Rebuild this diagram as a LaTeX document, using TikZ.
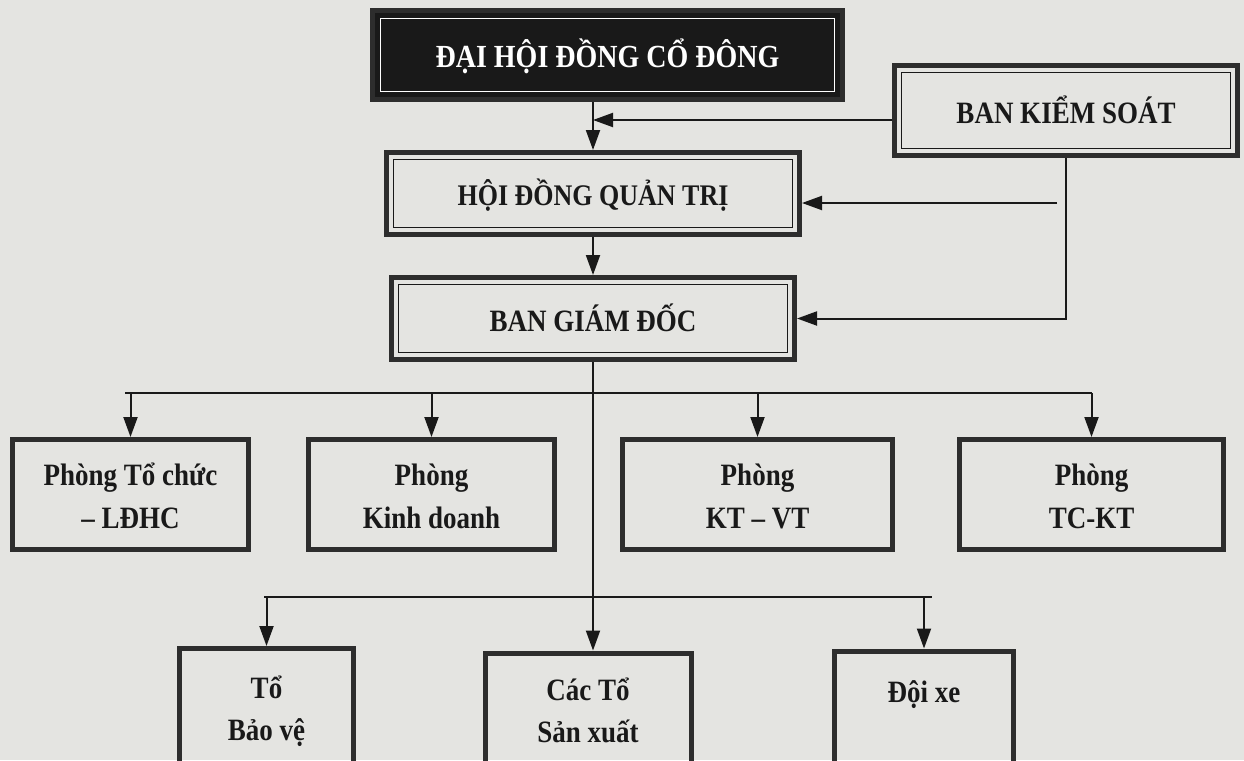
\documentclass[tikz,border=0pt]{standalone}
\usepackage{fontspec}
\usepackage{graphicx}
\setmainfont{Liberation Serif}
\usetikzlibrary{arrows.meta}
\definecolor{paper}{RGB}{228,228,225}
\definecolor{ink}{RGB}{25,25,25}
\definecolor{rim}{RGB}{45,45,45}
\newcommand{\tx}[1]{\raisebox{-4pt}[\height][\depth]{\scalebox{1}[1.15]{\begin{tabular}{@{}c@{}}#1\end{tabular}}}}
\begin{document}
\begin{tikzpicture}[x=1pt,y=-1pt,
  frame/.style={rectangle, draw=rim, line width=5pt, inner sep=0pt, align=center,
    text=ink, font=\bfseries\fontsize{27}{37}\selectfont},
  dframe/.style={frame, path picture={\draw[ink, line width=1.6pt]
    ([shift={(7pt,-7pt)}]path picture bounding box.north west) rectangle
    ([shift={(-7pt,7pt)}]path picture bounding box.south east);}},
  bframe/.style={frame, fill=ink, text=white, font=\bfseries\fontsize{28}{34}\selectfont,
    path picture={\draw[white, line width=1.6pt]
    ([shift={(8pt,-8pt)}]path picture bounding box.north west) rectangle
    ([shift={(-8pt,8pt)}]path picture bounding box.south east);}},
  conn/.style={draw=ink, line width=2pt},
  arr/.style={conn, -{Triangle[length=20pt,width=14pt]}}
]
\useasboundingbox (0,0) rectangle (1244,760);
\clip (0,0) rectangle (1244,760);
\fill[paper] (0,0) rectangle (1244,760);

% top level
\node[bframe, minimum width=470pt, minimum height=89pt] (dh) at (607.5,55) {\tx{ĐẠI HỘI ĐỒNG CỔ ĐÔNG}};
\node[dframe, minimum width=343pt, minimum height=90pt] (bks) at (1066,110.5) {\tx{BAN KIỂM SOÁT}};
\node[dframe, minimum width=413pt, minimum height=82pt, font=\bfseries\fontsize{26}{34}\selectfont] (hdqt) at (593,193.5) {\tx{HỘI ĐỒNG QUẢN TRỊ\hspace{24pt}}};
\node[dframe, minimum width=403pt, minimum height=82pt] (bgd) at (593,318.5) {\tx{BAN GIÁM ĐỐC}};

% departments
\node[frame, minimum width=236pt, minimum height=110pt] (p1) at (130.5,494.5) {\tx{Phòng Tổ chức\\– LĐHC}};
\node[frame, minimum width=246pt, minimum height=110pt] (p2) at (431.5,494.5) {\tx{Phòng\\Kinh doanh}};
\node[frame, minimum width=270pt, minimum height=110pt] (p3) at (757.5,494.5) {\tx{Phòng\\KT – VT}};
\node[frame, minimum width=264pt, minimum height=110pt] (p4) at (1091.5,494.5) {\tx{Phòng\\TC-KT}};

% teams
\node[frame, minimum width=174pt, minimum height=117pt] (t1) at (266.5,707) {\tx{Tổ\\Bảo vệ}};
\node[frame, minimum width=206pt, minimum height=112pt] (t2) at (588,709) {\tx{Các Tổ\\Sản xuất}};
\node[frame, minimum width=179pt, minimum height=114pt] (t3) at (924,708) {\raisebox{11pt}[0pt][0pt]{\tx{Đội xe}}};

% connectors upper part
\draw[arr] (dh.south -| hdqt.north) -- (hdqt.north);
\coordinate (j1) at (593,120);
\draw[arr] (bks.west |- j1) -- (j1);
\draw[arr] (bks.south) |- (bgd.east);
\coordinate (j2) at (1057,203);
\draw[arr] (j2) -- (hdqt.east |- j2);
\draw[arr] (hdqt.south) -- (bgd.north);

% row 2
\coordinate (r2L) at (125,393);
\coordinate (r2R) at (1091.5,393);
\draw[conn] (r2L) -- (r2R);
\draw[arr] (p1.north |- r2L) -- (p1.north);
\draw[arr] (p2.north |- r2L) -- (p2.north);
\draw[arr] (p3.north |- r2L) -- (p3.north);
\draw[arr] (r2R) -- (p4.north);

% central line and row 3
\draw[arr] (bgd.south) -- (bgd.south |- t2.north);
\coordinate (r3L) at (264,597);
\coordinate (r3R) at (932,597);
\draw[conn] (r3L) -- (r3R);
\draw[arr] (t1.north |- r3L) -- (t1.north);
\draw[arr] (t3.north |- r3L) -- (t3.north);
\end{tikzpicture}
\end{document}
